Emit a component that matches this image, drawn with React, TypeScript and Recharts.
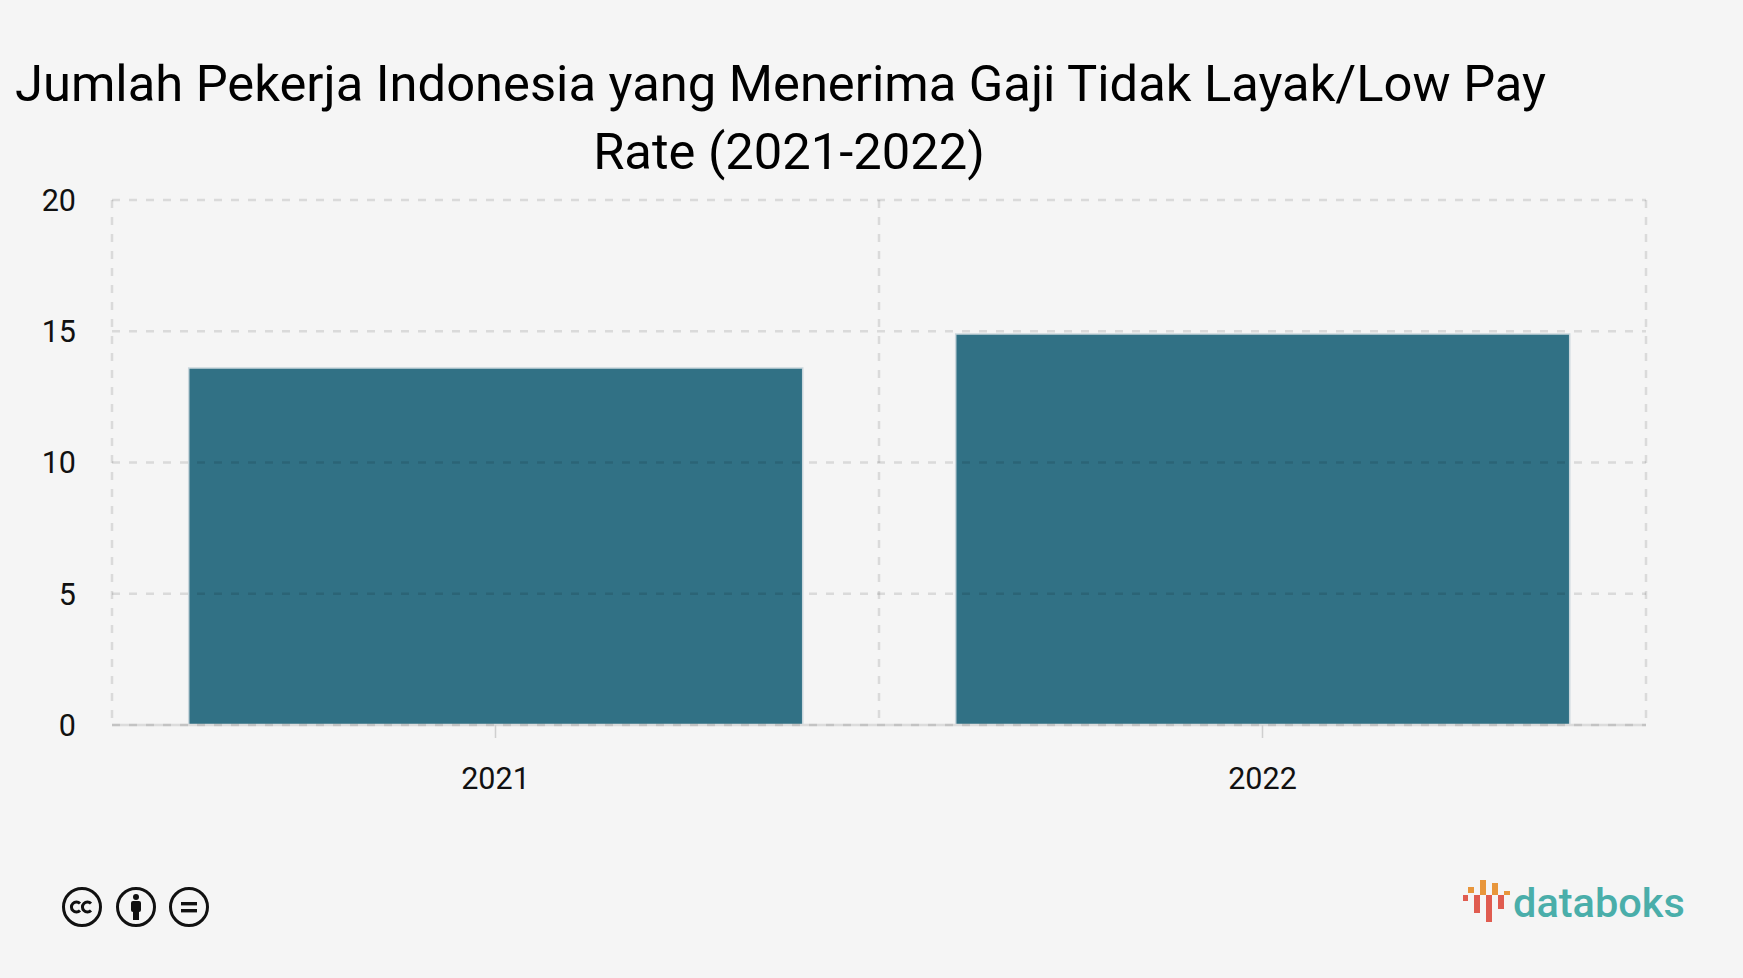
import { BarChart, Bar, XAxis, YAxis, CartesianGrid } from 'recharts';

const categories = ['2021', '2022'];
const workers = [13.6, 14.9];
const yTicks = [0, 5, 10, 15, 20];

const titleLines = [
  'Jumlah Pekerja Indonesia yang Menerima Gaji Tidak Layak/Low Pay',
  'Rate (2021-2022)',
];

const chartData = categories.map((year, i) => ({ year, value: workers[i] }));

const tickStyle = { fontSize: 30.5, fill: '#111111', fontFamily: 'Roboto' };

function CcBadges() {
  return (
    <svg width={150} height={44} style={{ position: 'absolute', left: 59, top: 885 }}>
      <g fill="none" stroke="#111" strokeWidth={3}>
        <circle cx={23} cy={22} r={18.5} />
        <circle cx={77} cy={22} r={18.5} />
        <circle cx={130} cy={22} r={18.5} />
        <path d="M21 18.5a5 5 0 1 0 0 7" />
        <path d="M32 18.5a5 5 0 1 0 0 7" />
      </g>
      <g fill="#111">
        <circle cx={77} cy={12} r={3} />
        <rect x={72} y={16} width={10} height={11} rx={2} />
        <rect x={74} y={26} width={6} height={9} />
        <rect x={122} y={17} width={16} height={3.4} />
        <rect x={122} y={24} width={16} height={3.4} />
      </g>
    </svg>
  );
}

function LogoMark() {
  return (
    <svg width={50} height={48} style={{ position: 'absolute', left: 1462, top: 878 }}>
      <g fill="#e8963c">
        <rect x={6} y={9} width={6} height={6} />
        <rect x={18} y={2} width={6} height={15} />
        <rect x={30} y={5} width={6} height={12} />
        <rect x={42} y={13} width={6} height={4} />
      </g>
      <g fill="#e05c50">
        <rect x={1} y={17} width={5} height={6} />
        <rect x={12} y={17} width={6} height={18} />
        <rect x={24} y={17} width={6} height={27} />
        <rect x={36} y={17} width={6} height={14} />
      </g>
    </svg>
  );
}

export default function App() {
  return (
    <div style={{ position: 'absolute', left: 0, top: 0, width: 1743, height: 978, background: '#f5f5f5', overflow: 'hidden' }}>
      <div
        style={{
          position: 'absolute',
          left: 0,
          top: 50,
          width: 1578,
          textAlign: 'center',
          fontFamily: 'Roboto',
          fontSize: 50.7,
          lineHeight: '68px',
          color: '#000000',
          whiteSpace: 'nowrap',
        }}
      >
        {titleLines.map((line, i) => (
          <div key={line} style={i === 0 ? { marginLeft: -17 } : undefined}>
            {line}
          </div>
        ))}
      </div>
      <div style={{ position: 'absolute', left: 0, top: 0 }}>
        <BarChart
          width={1743}
          height={800}
          data={chartData}
          barCategoryGap="10%"
          margin={{ top: 200, right: 97, bottom: 45, left: 0 }}
        >
          <XAxis
            dataKey="year"
            tick={tickStyle}
            tickLine={{ stroke: '#cfcfcf', strokeWidth: 1.5 }}
            tickSize={13}
            tickMargin={29}
            axisLine={{ stroke: '#dcdcdc', strokeWidth: 2.5 }}
          />
          <YAxis
            domain={[0, 20]}
            ticks={yTicks}
            width={112}
            tick={tickStyle}
            tickLine={false}
            axisLine={false}
            tickMargin={30}
            interval={0}
          />
          <Bar
            dataKey="value"
            fill="#317185"
            stroke="#c9d6dc"
            strokeWidth={1.5}
            isAnimationActive={false}
          />
          <CartesianGrid
            zIndex={500}
            stroke="#000000"
            strokeOpacity={0.11}
            strokeWidth={2.5}
            strokeDasharray="8 9"
            verticalCoordinatesGenerator={({ offset }: any) => [
              offset.left,
              offset.left + offset.width / 2,
              offset.left + offset.width,
            ]}
          />
        </BarChart>
      </div>
      <CcBadges />
      <LogoMark />
      <div
        style={{
          position: 'absolute',
          left: 1513,
          top: 879,
          fontFamily: 'Roboto',
          fontSize: 41.5,
          fontWeight: 500,
          lineHeight: '48px',
          color: '#4aaeaa',
        }}
      >
        databoks
      </div>
    </div>
  );
}
